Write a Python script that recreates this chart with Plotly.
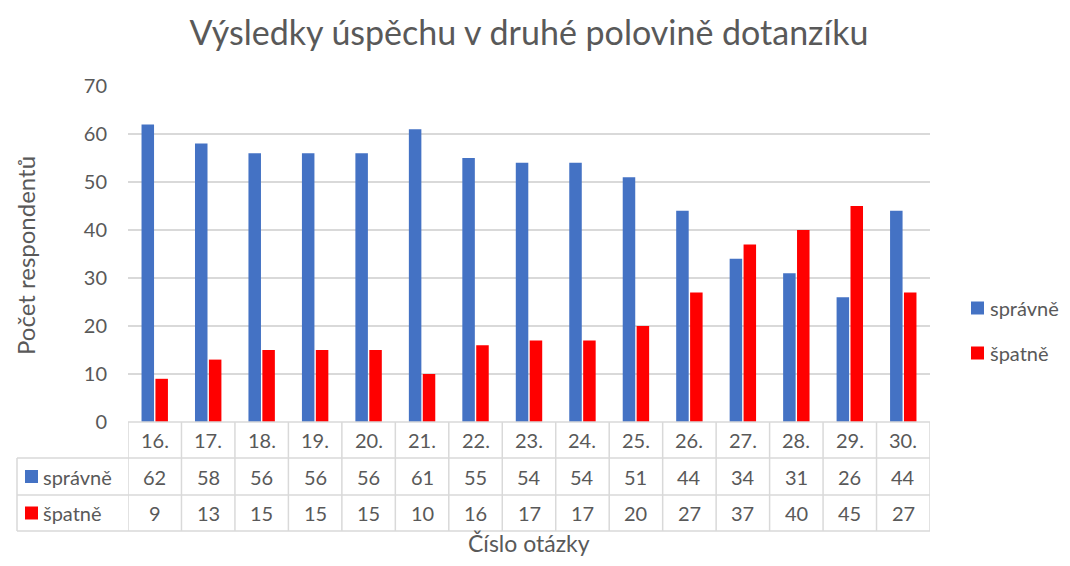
import plotly.graph_objects as go

categories = ["16.", "17.", "18.", "19.", "20.", "21.", "22.", "23.", "24.", "25.",
              "26.", "27.", "28.", "29.", "30."]
spravne = [62, 58, 56, 56, 56, 61, 55, 54, 54, 51, 44, 34, 31, 26, 44]
spatne = [9, 13, 15, 15, 15, 10, 16, 17, 17, 20, 27, 37, 40, 45, 27]
series_names = ["správně", "špatně"]
colors = ["#4472C4", "#FF0000"]

OFF = 8  # page body margin
W, H = 1070 - 2 * OFF, 566 - 2 * OFF
L, R, T, B = 128, 930, 86, 422  # plot area in screen pixels
pw, ph = R - L, B - T

def px(x):
    return (x - L) / pw

def py(y):
    return (B - y) / ph

FONT = "Lato"
TXT = "#595959"
GRID = "#D9D9D9"
FS = 20

fig = go.Figure()
for name, vals, col in zip(series_names, [spravne, spatne], colors):
    fig.add_trace(go.Bar(x=categories, y=vals, name=name, marker=dict(color=col, line=dict(width=0)),
                         showlegend=False))

shapes = []
annotations = []
n = len(categories)

def ann(**kw):
    base = dict(showarrow=False, xanchor="center", yanchor="middle")
    base.update(kw)
    annotations.append(base)

for yy, x0 in [(B, L), (458, 17), (495, 17), (531, 17)]:
    shapes.append(dict(type="line", xref="paper", yref="paper", x0=px(x0), x1=1, y0=py(yy), y1=py(yy),
                       line=dict(color=GRID, width=1.5)))
for k in range(n + 1):
    shapes.append(dict(type="line", xref="x", yref="paper", x0=k - 0.5, x1=k - 0.5, y0=py(B), y1=py(531),
                       line=dict(color=GRID, width=1.5)))
shapes.append(dict(type="line", xref="paper", yref="paper", x0=px(17), x1=px(17), y0=py(458), y1=py(531),
                   line=dict(color=GRID, width=1.5)))

row_y = [476.5, 513]
for i, c in enumerate(categories):
    ann(x=i, y=py(440), xref="x", yref="paper", text=c, font=dict(family=FONT, size=FS, color=TXT))
    for r, vals in enumerate([spravne, spatne]):
        ann(x=i, y=py(row_y[r]), xref="x", yref="paper", text=str(vals[i]),
            font=dict(family=FONT, size=FS, color=TXT))
for r, (name, col) in enumerate(zip(series_names, colors)):
    shapes.append(dict(type="rect", xref="paper", yref="paper", x0=px(25), x1=px(38),
                       y0=py(row_y[r] - 6.5), y1=py(row_y[r] + 6.5), fillcolor=col, line=dict(width=0)))
    ann(x=px(41), y=py(row_y[r]), xref="paper", yref="paper", text=name, xanchor="left",
        font=dict(family=FONT, size=FS, color=TXT))

# right-hand legend
leg_y = [308, 353]
for r, (name, col) in enumerate(zip(series_names, colors)):
    shapes.append(dict(type="rect", xref="paper", yref="paper", x0=px(971), x1=px(984),
                       y0=py(leg_y[r] - 6.5), y1=py(leg_y[r] + 6.5), fillcolor=col, line=dict(width=0)))
    ann(x=px(988), y=py(leg_y[r]), xref="paper", yref="paper", text=name, xanchor="left",
        font=dict(family=FONT, size=FS, color=TXT))

ann(x=px(25), y=py(256), xref="paper", yref="paper", text="Počet respondentů", textangle=-90,
    font=dict(family=FONT, size=24, color=TXT))
ann(x=0.5, y=py(543), xref="paper", yref="paper", text="Číslo otázky",
    font=dict(family=FONT, size=23, color=TXT))

fig.update_layout(
    width=W, height=H,
    margin=dict(l=L - OFF, r=W - (R - OFF), t=T - OFF, b=H - (B - OFF), pad=0, autoexpand=False),
    paper_bgcolor="white", plot_bgcolor="white", showlegend=False,
    title=dict(text="Výsledky úspěchu v druhé polovině dotanzíku", x=0.5, xref="paper", xanchor="center",
               y=1 - (33 - OFF) / H, yanchor="middle", font=dict(family=FONT, size=34, color=TXT)),
    barmode="group", bargap=0.48, bargroupgap=0.1,
    xaxis=dict(type="category", showticklabels=False, showgrid=False, zeroline=False, showline=False,
               ticks="", range=[-0.5, n - 0.5]),
    yaxis=dict(range=[0, 70], dtick=10, showgrid=True, gridcolor=GRID, gridwidth=1.5,
               zeroline=False, showline=False, ticks="", ticklabelstandoff=20,
               tickfont=dict(family=FONT, size=FS, color=TXT)),
    shapes=shapes, annotations=annotations,
)

fig.write_html("out.html")
